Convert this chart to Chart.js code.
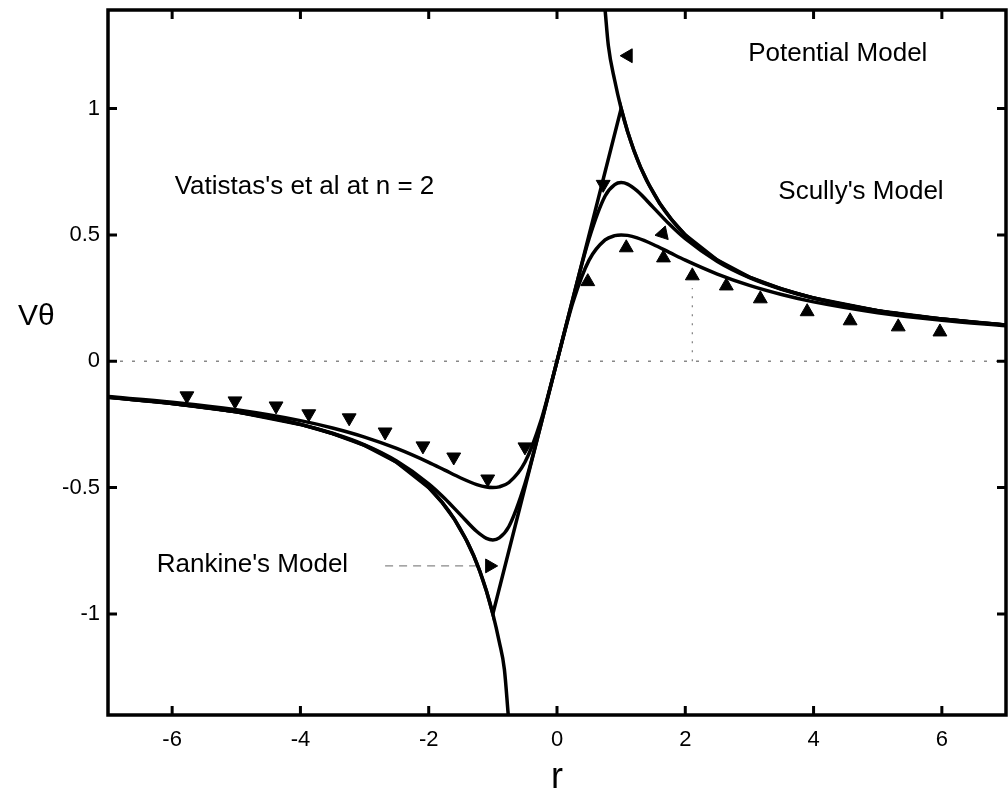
<!DOCTYPE html>
<html>
<head>
<meta charset="utf-8">
<script src="https://cdn.jsdelivr.net/npm/chart.js@4.4.1/dist/chart.umd.min.js"></script>
<style>
html, body { margin: 0; padding: 0; background: #fff; }
#wrap { width: 1008px; height: 795px; }
</style>
</head>
<body>
<div id="wrap"><canvas id="vortexChart" width="1008" height="795"></canvas></div>
<script>
// tangential velocity Vθ against radius r for the vortex models
const rankineR = [-7, -6, -5, -4, -3.5, -3, -2.5, -2, -1.8, -1.6, -1.4, -1.3, -1.2, -1.1, -1, 1, 1.1, 1.2, 1.3, 1.4, 1.6, 1.8, 2, 2.5, 3, 3.5, 4, 5, 6, 7];
const rankineV = [-0.143, -0.167, -0.2, -0.25, -0.286, -0.333, -0.4, -0.5, -0.556, -0.625, -0.714, -0.769, -0.833, -0.909, -1, 1, 0.909, 0.833, 0.769, 0.714, 0.625, 0.556, 0.5, 0.4, 0.333, 0.286, 0.25, 0.2, 0.167, 0.143];

const potentialLeftR = [-7, -6, -5, -4, -3, -2.5, -2, -1.6, -1.3, -1.1, -1, -0.9, -0.82, -0.76];
const potentialLeftV = [-0.143, -0.167, -0.2, -0.25, -0.333, -0.4, -0.5, -0.625, -0.769, -0.909, -1, -1.111, -1.22, -1.40];
const potentialRightR = [0.75, 0.8, 0.9, 1, 1.1, 1.3, 1.6, 2, 2.5, 3, 4, 5, 6, 7];
const potentialRightV = [1.39, 1.25, 1.111, 1, 0.909, 0.769, 0.625, 0.5, 0.4, 0.333, 0.25, 0.2, 0.167, 0.143];

const modelR = [-7, -6, -5, -4, -3.5, -3, -2.5, -2, -1.75, -1.5, -1.25, -1.1, -1, -0.9, -0.75, -0.5, -0.25, 0, 0.25, 0.5, 0.75, 0.9, 1, 1.1, 1.25, 1.5, 1.75, 2, 2.5, 3, 3.5, 4, 5, 6, 7];
const vatistasV = [-0.143, -0.167, -0.2, -0.25, -0.285, -0.331, -0.395, -0.485, -0.543, -0.609, -0.674, -0.701, -0.707, -0.699, -0.654, -0.485, -0.25, 0, 0.25, 0.485, 0.654, 0.699, 0.707, 0.701, 0.674, 0.609, 0.543, 0.485, 0.395, 0.331, 0.285, 0.25, 0.2, 0.167, 0.143];
const scullyV = [-0.14, -0.162, -0.192, -0.235, -0.264, -0.3, -0.345, -0.4, -0.431, -0.462, -0.488, -0.498, -0.5, -0.497, -0.48, -0.4, -0.235, 0, 0.235, 0.4, 0.48, 0.497, 0.5, 0.498, 0.488, 0.462, 0.431, 0.4, 0.345, 0.3, 0.264, 0.235, 0.192, 0.162, 0.14];

// measured points: ▲ for r > 0, ▼ for r < 0
const upR = [0.48, 1.08, 1.66, 2.11, 2.64, 3.17, 3.90, 4.57, 5.32, 5.97];
const upV = [0.315, 0.449, 0.409, 0.338, 0.298, 0.247, 0.196, 0.160, 0.136, 0.116];
const downR = [-5.77, -5.02, -4.38, -3.87, -3.24, -2.68, -2.09, -1.61, -1.08, -0.50];
const downV = [-0.137, -0.157, -0.177, -0.208, -0.224, -0.280, -0.335, -0.379, -0.466, -0.339];

// arrow heads next to the model names
const pointerR = [1.11, 0.72, 1.65, -1.05];
const pointerV = [1.209, 0.70, 0.505, -0.81];
const pointerAngle = [270, 180, 18, 90];

const xTicks = [-6, -4, -2, 0, 2, 4, 6];
const yTicks = [-1, -0.5, 0, 0.5, 1];

const modelNames = [
  { text: 'Potential Model', r: 2.98, v: 1.19 },
  { text: "Vatistas's et al at n = 2", r: -5.96, v: 0.663 },
  { text: "Scully's Model", r: 3.45, v: 0.643 },
  { text: "Rankine's Model", r: -6.24, v: -0.834 }
];

const pts = (xs, ys) => xs.map((x, i) => ({ x: x, y: ys[i] }));
const FONT = "'Liberation Sans', Arial, Helvetica, sans-serif";

const curve = (data, extra) => Object.assign({
  data: data,
  showLine: true,
  borderColor: '#000',
  borderWidth: 3.5,
  pointRadius: 0,
  cubicInterpolationMode: 'monotone',
  clip: 2
}, extra || {});

const guide = (data, dash) => ({
  data: data,
  showLine: true,
  borderColor: '#888',
  borderWidth: 1.3,
  borderDash: dash,
  pointRadius: 0,
  tension: 0
});

const marks = (data, rot) => ({
  data: data,
  showLine: false,
  pointStyle: 'triangle',
  pointRadius: 8,
  pointRotation: rot,
  backgroundColor: '#000',
  borderColor: '#000',
  borderWidth: 1
});

// no extra room around the scales: the plot box is set by layout padding alone
const fixScale = size => s => {
  if (s.isHorizontal()) s.height = size; else s.width = size;
  s.paddingTop = 0; s.paddingBottom = 0; s.paddingLeft = 0; s.paddingRight = 0;
};

// frame, inward tick marks on all four sides, and the text labels
const framePlugin = {
  id: 'frame',
  afterDraw(chart) {
    const { ctx, chartArea: a, scales: { x, y } } = chart;
    ctx.save();
    ctx.strokeStyle = '#000';
    ctx.lineWidth = 3.5;
    ctx.strokeRect(a.left, a.top, a.right - a.left, a.bottom - a.top);
    ctx.lineWidth = 3;
    const len = 9;
    ctx.beginPath();
    xTicks.forEach(t => {
      const px = x.getPixelForValue(t);
      ctx.moveTo(px, a.bottom); ctx.lineTo(px, a.bottom - len);
      ctx.moveTo(px, a.top); ctx.lineTo(px, a.top + len);
    });
    yTicks.forEach(t => {
      const py = y.getPixelForValue(t);
      ctx.moveTo(a.left, py); ctx.lineTo(a.left + len, py);
      ctx.moveTo(a.right, py); ctx.lineTo(a.right - len, py);
    });
    ctx.stroke();

    ctx.fillStyle = '#000';
    ctx.textBaseline = 'alphabetic';
    ctx.textAlign = 'left';
    ctx.font = '26px ' + FONT;
    modelNames.forEach(m => {
      ctx.fillText(m.text, x.getPixelForValue(m.r), y.getPixelForValue(m.v));
    });

    // axis titles
    ctx.font = '30px ' + FONT;
    ctx.fillText('Vθ', 18, 325);
    ctx.textAlign = 'center';
    ctx.font = '36px ' + FONT;
    ctx.fillText('r', x.getPixelForValue(0), 788);
    ctx.restore();
  }
};

new Chart(document.getElementById('vortexChart'), {
  type: 'scatter',
  data: {
    datasets: [
      curve(pts(rankineR, rankineV), { cubicInterpolationMode: 'default', tension: 0 }),
      curve(pts(potentialLeftR, potentialLeftV)),
      curve(pts(potentialRightR, potentialRightV)),
      curve(pts(modelR, vatistasV)),
      curve(pts(modelR, scullyV)),
      marks(pts(upR, upV), 0),
      marks(pts(downR, downV), 180),
      marks(pts(pointerR, pointerV), pointerAngle),
      guide([{ x: -7, y: 0 }, { x: 7, y: 0 }], [3, 9]),
      guide([{ x: 2.11, y: 0 }, { x: 2.11, y: 0.29 }], [2, 7]),
      guide([{ x: -2.68, y: -0.81 }, { x: -1.25, y: -0.81 }], [8, 6])
    ]
  },
  options: {
    responsive: false,
    animation: false,
    layout: { autoPadding: false, padding: { top: 10, right: 2, left: 0, bottom: 0 } },
    plugins: { legend: { display: false }, tooltip: { enabled: false } },
    scales: {
      x: {
        type: 'linear',
        min: -7,
        max: 7,
        afterBuildTicks: s => { s.ticks = xTicks.map(v => ({ value: v })); },
        afterFit: fixScale(80),
        grid: { display: false, drawTicks: false },
        border: { display: false },
        ticks: { padding: 12, color: '#000', font: { family: FONT, size: 22 }, callback: v => String(v) }
      },
      y: {
        type: 'linear',
        min: -1.4,
        max: 1.39,
        afterBuildTicks: s => { s.ticks = yTicks.map(v => ({ value: v })); },
        afterFit: fixScale(108),
        grid: { display: false, drawTicks: false },
        border: { display: false },
        ticks: { padding: 8, color: '#000', font: { family: FONT, size: 22 }, callback: v => String(v) }
      }
    }
  },
  plugins: [framePlugin]
});
</script>
</body>
</html>
